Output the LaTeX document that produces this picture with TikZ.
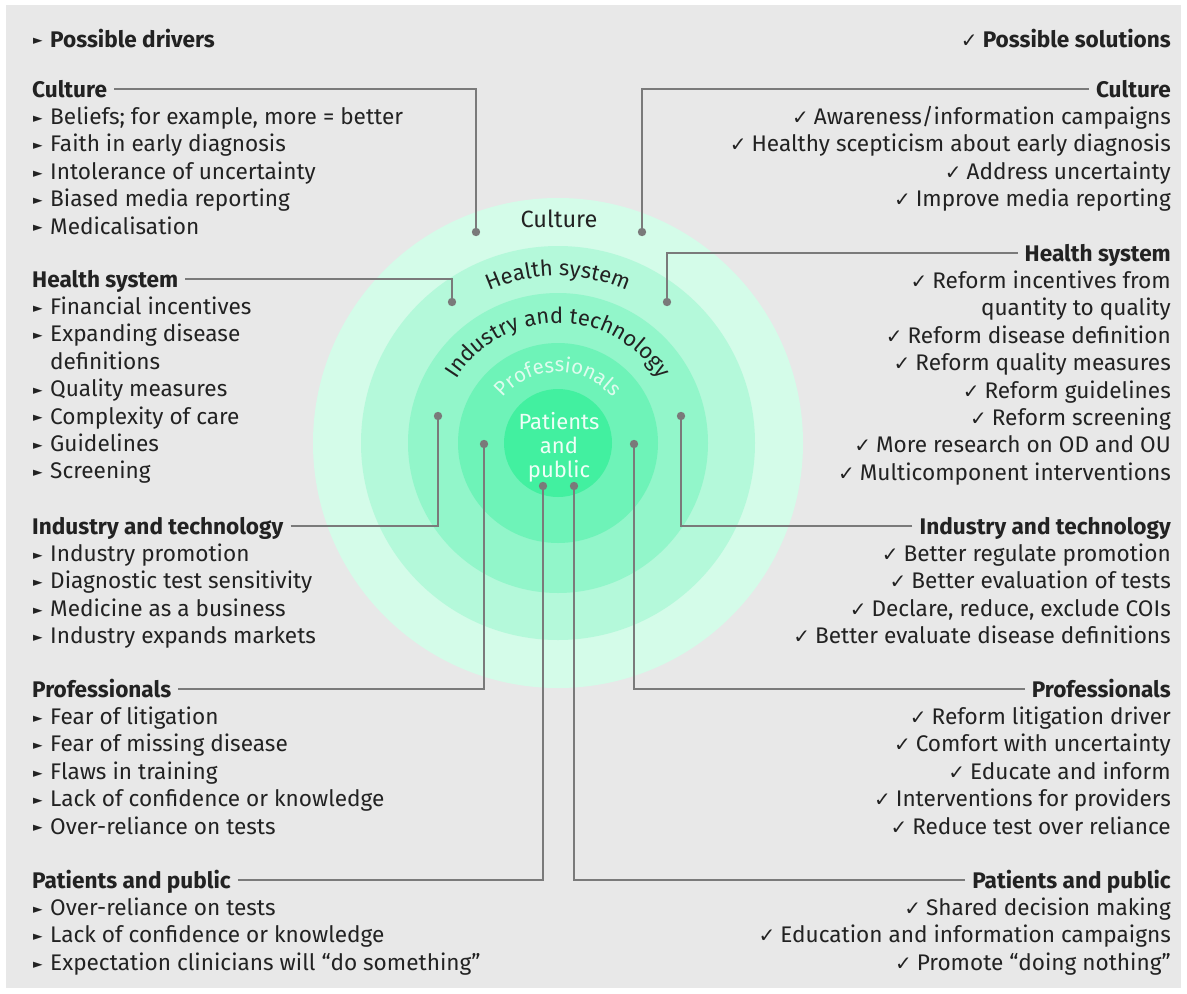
\documentclass[tikz,border=0pt]{standalone}
\usepackage{fontspec}
\setmainfont{Fira Sans}
\newfontfamily\symfont{DejaVu Sans}
\usetikzlibrary{decorations.text,calc}

\definecolor{panel}{RGB}{232,232,232}
\definecolor{ink}{RGB}{34,34,34}
\definecolor{cline}{RGB}{122,122,122}
\definecolor{ringA}{RGB}{212,252,233}
\definecolor{ringB}{RGB}{180,249,218}
\definecolor{ringC}{RGB}{146,246,202}
\definecolor{ringD}{RGB}{110,243,184}
\definecolor{ringE}{RGB}{66,240,160}
\definecolor{paleA}{RGB}{222,252,238}
\definecolor{paleB}{RGB}{238,255,247}

\newcommand\bodyfont{\fontsize{22.6}{27.4}\selectfont}
\newcommand\ringfont{\fontsize{22}{24}\selectfont}
\newcommand\profringfont{\fontsize{20.5}{24}\selectfont}
\newcommand\drvbul{\makebox[17pt][l]{\raisebox{2.2pt}{\symfont\fontsize{12.5}{12.5}\selectfont ►}}}
\newcommand\drvsp{\hspace*{17pt}}
\newcommand\solchk{{\symfont\fontsize{20}{20}\selectfont ✓}\hspace{5pt}}

\begin{document}
\begin{tikzpicture}[x=1pt,y=1pt,
  lt/.style={anchor=base west, inner sep=0pt, text=ink, font=\bodyfont, text height=20pt, text depth=4pt},
  rt/.style={lt, anchor=base east},
  lh/.style={lt, font=\bodyfont\bfseries},
  rh/.style={rt, font=\bodyfont\bfseries},
  cn/.style={draw=cline, line width=2pt},
  ringtxt/.style={anchor=base, inner sep=0pt, font=\ringfont}]
\useasboundingbox (0,0) rectangle (1187,-994);
\fill[white] (0,0) rectangle (1187,-994);
\fill[panel] (6,-5) rectangle (1181,-988);

% rings
\coordinate (C) at (558,-443);
\fill[ringA] (C) circle[radius=245];
\fill[ringB] (C) circle[radius=197];
\fill[ringC] (C) circle[radius=150];
\fill[ringD] (C) circle[radius=100];
\fill[ringE] (C) circle[radius=54];

% ring labels
\node[ringtxt, text=ink, font=\fontsize{23.5}{24}\selectfont] (tCult) at (559,-227) {Culture};
\path[decorate, decoration={text along path, text align=center, text color=ink,
  text={|\ringfont|Health system}}]
  ($(C)+(160:167)$) arc[start angle=160, end angle=20, radius=167];
\path[decorate, decoration={text along path, text align=center, text color=ink,
  text={|\ringfont|Industry and technology}}]
  ($(C)+(178:120)$) arc[start angle=178, end angle=2, radius=120];
\path[decorate, decoration={text along path, text align=center, text color=paleA,
  text={|\profringfont|Professionals}}]
  ($(C)+(178:71)$) arc[start angle=178, end angle=2, radius=71];
\node[ringtxt, text=paleB] (tPat1) at (559,-429) {Patients};
\node[ringtxt, text=paleB] (tPat2) at (559,-453) {and};
\node[ringtxt, text=paleB] (tPat3) at (559,-477) {public};

% top headings
\node[lh] (hDrv) at (33,-47) {\drvbul Possible drivers};
\node[rh] (hSol) at (1171,-47) {\solchk Possible solutions};

% ---------- left column ----------
\node[lh] (hLC) at (32,-97) {Culture};
\foreach \t [count=\i] in {{Beliefs; for example, more = better},{Faith in early diagnosis},
  {Intolerance of uncertainty},{Biased media reporting},{Medicalisation}}
  \node[lt] (lc\i) at (33,{-97-27.4*\i}) {\drvbul\t};

\node[lh] (hLH) at (32,-287) {Health system};
\foreach \t [count=\i] in {{\drvbul Financial incentives},{\drvbul Expanding disease},{\drvsp definitions},
  {\drvbul Quality measures},{\drvbul Complexity of care},{\drvbul Guidelines},{\drvbul Screening}}
  \node[lt] (lh\i) at (33,{-287-27.4*\i}) {\t};

\node[lh] (hLI) at (32,-534) {Industry and technology};
\foreach \t [count=\i] in {{Industry promotion},{Diagnostic test sensitivity},
  {Medicine as a business},{Industry expands markets}}
  \node[lt] (li\i) at (33,{-534-27.4*\i}) {\drvbul\t};

\node[lh] (hLP) at (32,-697) {Professionals};
\foreach \t [count=\i] in {{Fear of litigation},{Fear of missing disease},{Flaws in training},
  {Lack of confidence or knowledge},{Over-reliance on tests}}
  \node[lt] (lp\i) at (33,{-697-27.4*\i}) {\drvbul\t};

\node[lh] (hLPa) at (32,-888) {Patients and public};
\foreach \t [count=\i] in {{Over-reliance on tests},{Lack of confidence or knowledge},
  {Expectation clinicians will “do something”}}
  \node[lt] (la\i) at (33,{-888-27.4*\i}) {\drvbul\t};

% ---------- right column ----------
\node[rh] (hRC) at (1171,-97) {Culture};
\foreach \t [count=\i] in {{Awareness/information campaigns},{Healthy scepticism about early diagnosis},
  {Address uncertainty},{Improve media reporting}}
  \node[rt] (rc\i) at (1171,{-97-27.4*\i}) {\solchk\t};

\node[rh] (hRH) at (1171,-261) {Health system};
\foreach \t [count=\i] in {{\solchk Reform incentives from},{quantity to quality},{\solchk Reform disease definition},
  {\solchk Reform quality measures},{\solchk Reform guidelines},{\solchk Reform screening},
  {\solchk More research on OD and OU},{\solchk Multicomponent interventions}}
  \node[rt] (rh\i) at (1171,{-261-27.4*\i}) {\t};

\node[rh] (hRI) at (1171,-534) {Industry and technology};
\foreach \t [count=\i] in {{Better regulate promotion},{Better evaluation of tests},
  {Declare, reduce, exclude COIs},{Better evaluate disease definitions}}
  \node[rt] (ri\i) at (1171,{-534-27.4*\i}) {\solchk\t};

\node[rh] (hRP) at (1171,-697) {Professionals};
\foreach \t [count=\i] in {{Reform litigation driver},{Comfort with uncertainty},{Educate and inform},
  {Interventions for providers},{Reduce test over reliance}}
  \node[rt] (rp\i) at (1171,{-697-27.4*\i}) {\solchk\t};

\node[rh] (hRPa) at (1171,-888) {Patients and public};
\foreach \t [count=\i] in {{Shared decision making},{Education and information campaigns},
  {Promote “doing nothing”}}
  \node[rt] (ra\i) at (1171,{-888-27.4*\i}) {\solchk\t};

% ---------- connectors ----------
\coordinate (dLC) at (476,-232);
\coordinate (dLH) at (452,-302);
\coordinate (dLI) at (438,-416);
\coordinate (dLP) at (484,-444);
\coordinate (dLPa) at (543,-486);
\coordinate (dRC) at (642,-232);
\coordinate (dRH) at (667,-302);
\coordinate (dRI) at (681,-416);
\coordinate (dRP) at (634,-444);
\coordinate (dRPa) at (574,-486);

\foreach \h/\d in {hLC/dLC,hLH/dLH,hLI/dLI,hLP/dLP,hLPa/dLPa}
  \draw[cn] ([xshift=7pt]\h.east) -| (\d);
\foreach \h/\d in {hRC/dRC,hRH/dRH,hRI/dRI,hRP/dRP,hRPa/dRPa}
  \draw[cn] ([xshift=-7pt]\h.west) -| (\d);
\foreach \d in {dLC,dLH,dLI,dLP,dLPa,dRC,dRH,dRI,dRP,dRPa}
  \fill[cline] (\d) circle[radius=4.2];
\end{tikzpicture}
\end{document}
